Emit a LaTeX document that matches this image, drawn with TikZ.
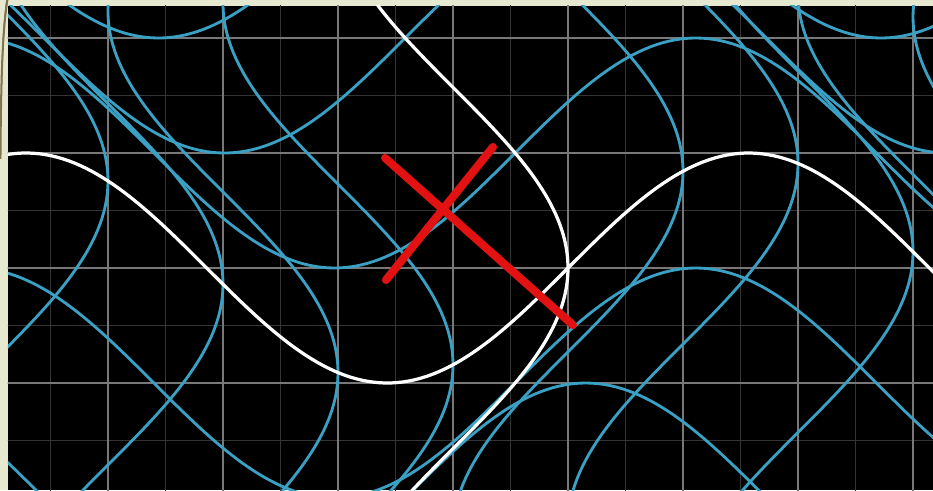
\documentclass[tikz,border=0pt]{standalone}
\usepackage{tikz}

\definecolor{paper}{RGB}{230,233,207}
\definecolor{bark}{RGB}{128,116,78}
\definecolor{gridblue}{RGB}{58,160,196}
\definecolor{majorgray}{RGB}{120,120,120}
\definecolor{minorgray}{RGB}{52,52,52}
\definecolor{crossred}{RGB}{226,18,18}

\begin{document}
\begin{tikzpicture}[scale=1.0, line join=round,
    minorline/.style={minorgray, line width=0.4pt},
    majorline/.style={majorgray, line width=0.6pt},
    warpline/.style={gridblue, line width=0.7pt},
    axisline/.style={white, line width=0.8pt},
    crossline/.style={crossred, line width=2pt, line cap=round}]

    % === 页面边界 ===
    \coordinate (SW) at (-4.9391, -1.9304);
    \coordinate (NE) at (3.1739, 2.3304);
    \coordinate (BL) at (-4.8696, -1.9304);
    \coordinate (TR) at (3.1739, 2.2783);
    \useasboundingbox (SW) rectangle (NE);

    % === 背景 ===
    \fill[paper] (SW) rectangle (NE);
    \draw[bark, line width=0.5pt] (-4.935, 0.95) .. controls (-4.93, 1.8) and (-4.91, 2.1) .. (-4.875, 2.33);
    \draw[bark, line width=0.3pt] (-4.925, 1.6) .. controls (-4.915, 2.0) and (-4.9, 2.2) .. (-4.88, 2.33);
    \fill[black] (BL) rectangle (TR);

    \begin{scope}
    \clip (BL) rectangle (TR);

    % === 网格 ===
    \foreach \i in {-10,...,7} {
        \draw[minorline] (\i/2, -2) -- (\i/2, 2.4);
    }
    \foreach \j in {-4,...,5} {
        \draw[minorline] (-5, \j/2) -- (3.3, \j/2);
    }
    \foreach \i in {-4,...,3} {
        \draw[majorline] (\i, -2) -- (\i, 2.4);
    }
    \foreach \j in {-1,...,2} {
        \draw[majorline] (-5, \j) -- (3.3, \j);
    }

    % === 变形后的网格线 ===
    \foreach \c in {-2,-1,1,2,3} {
        \draw[warpline] plot[domain=-5.5:5.5, samples=220, variable=\t]
            ({\t + cos(\c r) - 1}, {\c + sin(\t r)});
    }
    \foreach \c in {-4,-3,-2,-1,1,2,3,4,5} {
        \draw[warpline] plot[domain=-3.5:3.5, samples=160, variable=\t]
            ({\c + cos(\t r) - 1}, {\t + sin(\c r)});
    }

    % === 坐标轴的像 ===
    \draw[axisline] plot[domain=-5.5:5.5, samples=220, variable=\t]
        ({\t}, {sin(\t r)});
    \draw[axisline] plot[domain=-3.5:3.5, samples=160, variable=\t]
        ({cos(\t r) - 1}, {\t});
    \end{scope}

    % === 红色叉号 ===
    \coordinate (P1) at (-1.591, 0.957);
    \coordinate (P2) at (0.043, -0.496);
    \coordinate (Q1) at (-1.583, -0.104);
    \coordinate (Q2) at (-0.652, 1.052);
    \draw[crossline] (P1) -- (P2);
    \draw[crossline] (Q1) -- (Q2);

\end{tikzpicture}
\end{document}
